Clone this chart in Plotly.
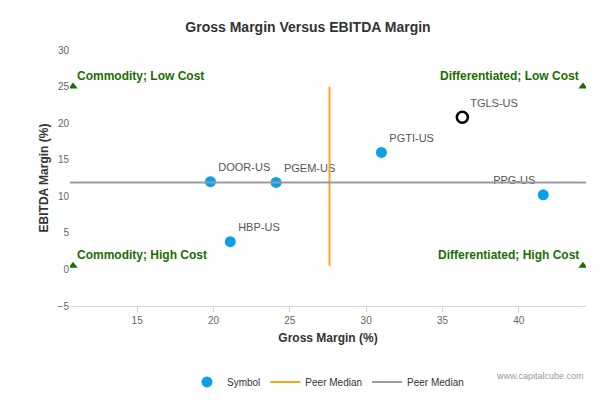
import plotly.graph_objects as go

symbols = ['DOOR-US', 'PGEM-US', 'HBP-US', 'PGTI-US', 'PPG-US']
gross = [19.8, 24.1, 21.1, 31.0, 41.6]
ebitda = [12.0, 11.9, 3.8, 16.0, 10.2]
label_pos = ['top right', 'top right', 'top right', 'top right', 'top left']

focus_symbol = 'TGLS-US'
focus_gross = 36.3
focus_ebitda = 20.8

median_gross = 27.6
median_ebitda = 11.9
x_min, x_max = 10.6, 44.4

corner_x = [10.8, 44.2, 10.8, 44.2]
corner_y = [25, 25, 0.5, 0.5]
corner_text = ['Commodity; Low Cost', 'Differentiated; Low Cost',
               'Commodity; High Cost', 'Differentiated; High Cost']

fig = go.Figure()
fig.add_trace(go.Scatter(x=gross, y=ebitda, mode='markers+text', name='Symbol',
                         text=symbols, textposition=label_pos,
                         textfont=dict(size=11, color='#555'),
                         marker=dict(color='#0ba0e8', size=11)))
fig.add_trace(go.Scatter(x=[focus_gross], y=[focus_ebitda], mode='markers+text',
                         text=[focus_symbol], textposition='top right', showlegend=False,
                         textfont=dict(size=11, color='#555'),
                         marker=dict(color='white', size=11, line=dict(color='black', width=2.5))))
fig.add_trace(go.Scatter(x=[median_gross, median_gross], y=[0.5, 25], mode='lines',
                         name='Peer Median', line=dict(color='#f5a623', width=2)))
fig.add_trace(go.Scatter(x=[x_min, x_max], y=[median_ebitda, median_ebitda], mode='lines',
                         name='Peer Median', line=dict(color='#9a9aa8', width=2)))
fig.add_trace(go.Scatter(x=corner_x, y=corner_y, mode='markers', showlegend=False,
                         marker=dict(symbol='triangle-up', color='#1a6e00', size=8)))

for i, t in enumerate(corner_text):
    left = corner_x[i] < 20
    fig.add_annotation(x=corner_x[i], y=corner_y[i], text='<b>' + t + '</b>',
                       showarrow=False, xanchor='left' if left else 'right',
                       yanchor='bottom', xshift=2 if left else -2, yshift=2,
                       font=dict(size=12, color='#1a6e00'))

fig.add_annotation(x=1, y=-0.3, xref='paper', yref='paper', text='www.capitalcube.com',
                   showarrow=False, xanchor='right', font=dict(size=9, color='#999'))

fig.update_layout(
    width=600, height=400, plot_bgcolor='white', paper_bgcolor='white',
    font=dict(family='Liberation Sans, Arial', color='#333'),
    title=dict(text='<b>Gross Margin Versus EBITDA Margin</b>', x=0.5, y=0.965,
               font=dict(size=14, color='#333')),
    margin=dict(l=62, r=22, t=42, b=95),
    xaxis=dict(title=dict(text='<b>Gross Margin (%)</b>', font=dict(size=12), standoff=8),
               range=[x_min, x_max], tickvals=[15, 20, 25, 30, 35, 40],
               showgrid=False, zeroline=False, showline=True, linecolor='#ccd6eb',
               ticks='outside', tickcolor='#ccd6eb', tickfont=dict(size=10, color='#666')),
    yaxis=dict(title=dict(text='<b>EBITDA Margin (%)</b>', font=dict(size=12), standoff=6),
               range=[-5, 30], dtick=5, showgrid=False, zeroline=False,
               tickfont=dict(size=10, color='#666')),
    legend=dict(orientation='h', x=0.5, xanchor='center', y=-0.24, yanchor='top',
                font=dict(size=10)),
)
fig.write_html('out.html')
